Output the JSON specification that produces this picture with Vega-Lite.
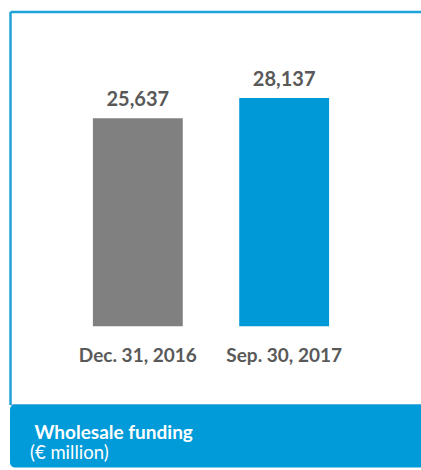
{
  "$schema": "https://vega.github.io/schema/vega-lite/v6.json",
  "padding": {"left": 10, "top": 11.5, "right": 0, "bottom": 0},
  "spacing": 0,
  "background": "white",
  "config": {"font": "Lato", "concat": {"spacing": 0}, "view": {"stroke": null}},
  "datasets": {
    "bars": [
      {"date": "Dec. 31, 2016", "value": 25637},
      {"date": "Sep. 30, 2017", "value": 28137}
    ],
    "banner": [
      {"line": "Wholesale funding"},
      {"line": "(€ million)"}
    ]
  },
  "vconcat": [
    {
      "width": 420,
      "height": 393,
      "data": {"name": "bars"},
      "resolve": {"axis": {"x": "independent"}},
      "layer": [
        {
          "mark": {"type": "bar"},
          "encoding": {
            "x": {
              "field": "date",
              "type": "nominal",
              "sort": null,
              "scale": {"paddingInner": 0.3857, "paddingOuter": 0.628, "align": 0.451},
              "axis": {"orient": "top", "labels": false, "ticks": false, "title": null, "grid": false, "domainColor": "#1fa2d8", "domainWidth": 2.5}
            },
            "y": {
              "field": "value",
              "type": "quantitative",
              "scale": {"domain": [-9648, 38809], "nice": false, "zero": false},
              "axis": {"orient": "left", "labels": false, "ticks": false, "title": null, "grid": false, "domainColor": "#1fa2d8", "domainWidth": 2.5}
            },
            "color": {
              "field": "date",
              "type": "nominal",
              "sort": null,
              "scale": {"range": ["#808080", "#0099d7"]},
              "legend": null
            }
          }
        },
        {
          "mark": {"type": "text", "baseline": "alphabetic", "dy": -12, "fontSize": 20, "fontWeight": "bold", "color": "#595959"},
          "encoding": {
            "x": {"field": "date", "type": "nominal", "sort": null, "axis": {"orient": "bottom", "labels": false, "ticks": false, "title": null, "grid": false, "domainColor": "#4a80c0", "domainWidth": 1}},
            "y": {"field": "value", "type": "quantitative"},
            "text": {"field": "value", "type": "quantitative", "format": ","}
          }
        },
        {
          "mark": {"type": "text", "baseline": "alphabetic", "dy": 35.5, "fontSize": 19, "fontWeight": "bold", "color": "#595959"},
          "encoding": {
            "x": {"field": "date", "type": "nominal", "sort": null, "axis": null},
            "y": {"datum": 0, "type": "quantitative"},
            "text": {"field": "date", "type": "nominal"}
          }
        }
      ]
    },
    {
      "width": 420,
      "height": 63,
      "view": {"fill": "#009bd8", "stroke": null, "cornerRadius": 5},
      "data": {"name": "banner"},
      "encoding": {
        "x": {
          "field": "line",
          "type": "nominal",
          "scale": {"type": "point", "domain": ["Wholesale funding", "(€ million)"], "range": [24.5, 20], "padding": 0},
          "axis": null
        },
        "y": {
          "field": "line",
          "type": "nominal",
          "scale": {"type": "point", "domain": ["Wholesale funding", "(€ million)"], "range": [34, 54], "padding": 0},
          "axis": null
        },
        "text": {"field": "line", "type": "nominal"}
      },
      "layer": [
        {
          "transform": [{"filter": "datum.line == 'Wholesale funding'"}],
          "mark": {"type": "text", "align": "left", "baseline": "alphabetic", "fontSize": 19, "fontWeight": "bold", "color": "white"}
        },
        {
          "transform": [{"filter": "datum.line != 'Wholesale funding'"}],
          "mark": {"type": "text", "align": "left", "baseline": "alphabetic", "fontSize": 18.5, "fontWeight": "normal", "color": "white"}
        }
      ]
    }
  ]
}
